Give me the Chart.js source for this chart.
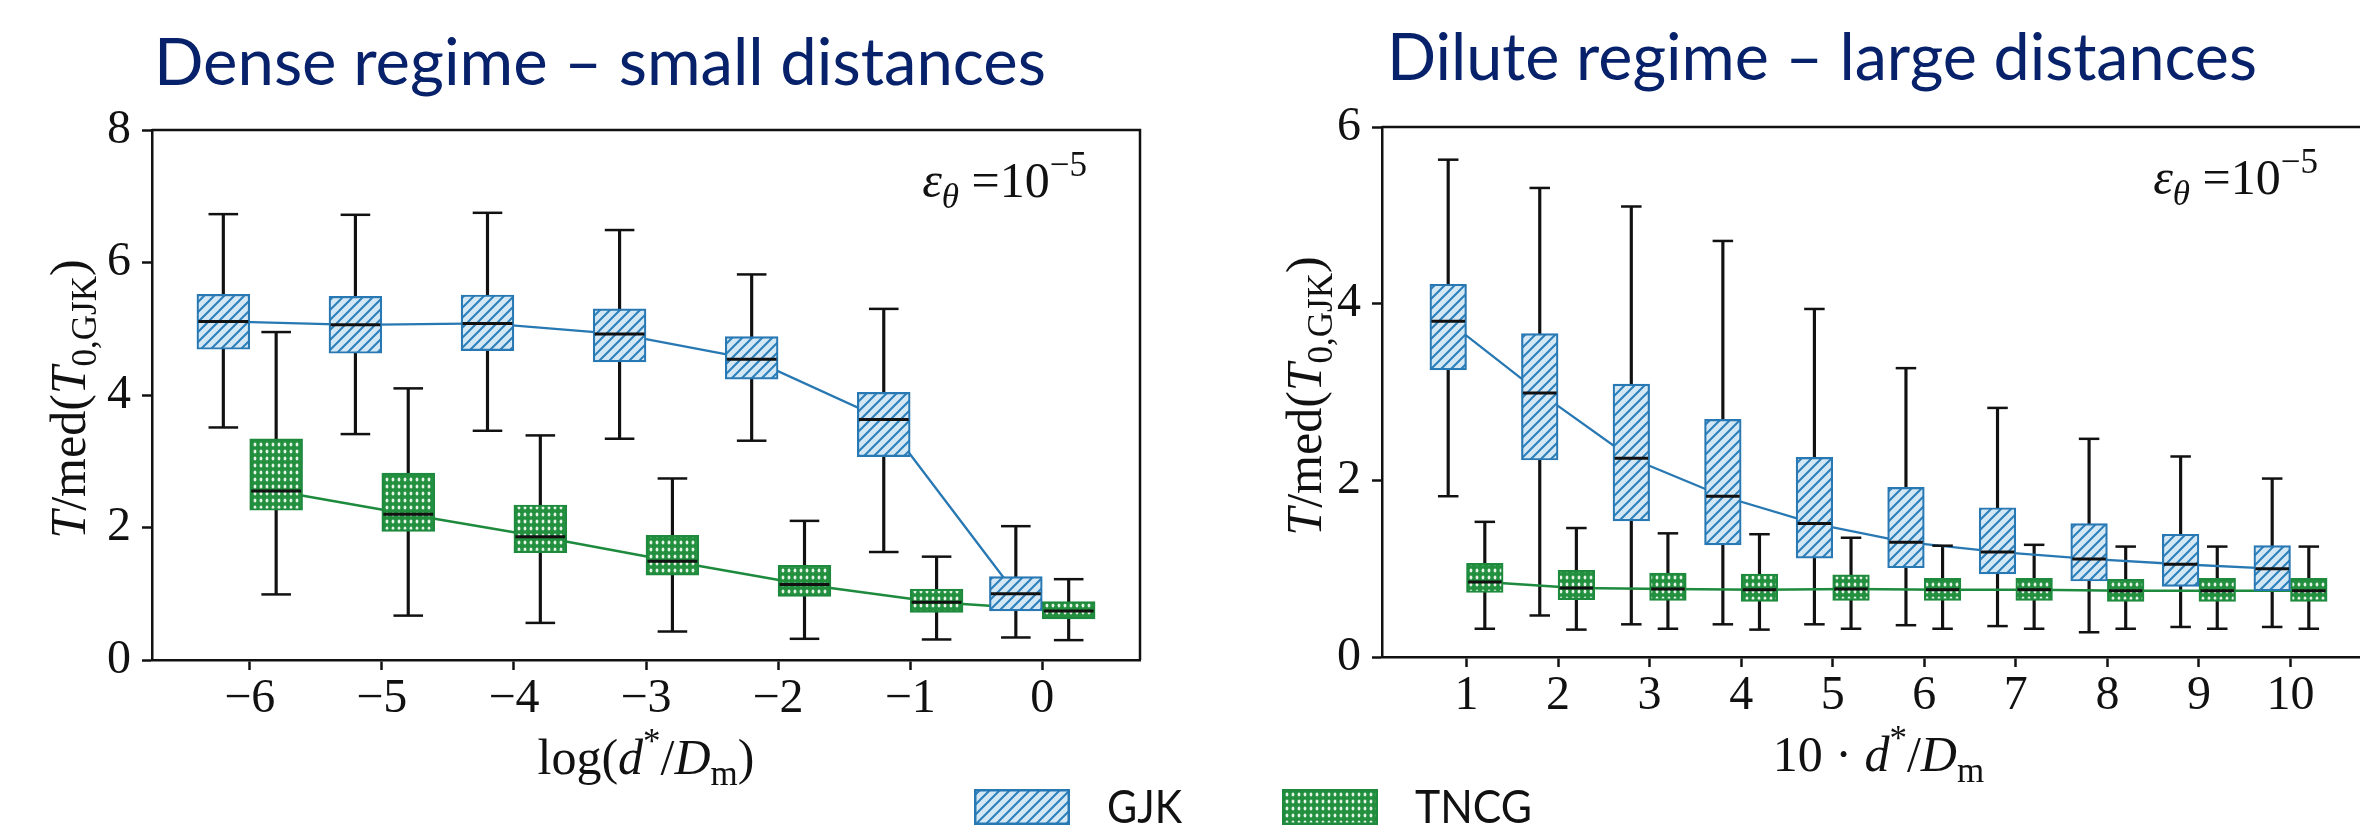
<!DOCTYPE html>
<html>
<head>
<meta charset="utf-8">
<script src="https://cdn.jsdelivr.net/npm/chart.js@4.4.1/dist/chart.umd.min.js"></script>
<style>
  html, body { margin: 0; padding: 0; background: #fff; overflow: hidden; width: 2360px; height: 827px; }
  canvas { position: absolute; top: 0; }
  #dense { left: 0; }
  #dilute { left: 1180px; }
</style>
</head>
<body>
<canvas id="dense" width="2360" height="827"></canvas>
<canvas id="dilute" width="1220" height="827"></canvas>
<script>
// left panel: dense regime, x = log(d*/Dm)
const denseX = [-6, -5, -4, -3, -2, -1, 0];
const denseGjkLow = [3.51, 3.41, 3.46, 3.34, 3.31, 1.63, 0.34];
const denseGjkQ1 = [4.69, 4.63, 4.67, 4.50, 4.24, 3.07, 0.74];
const denseGjkMed = [5.11, 5.06, 5.08, 4.92, 4.54, 3.63, 1.00];
const denseGjkQ3 = [5.52, 5.49, 5.51, 5.30, 4.88, 4.04, 1.26];
const denseGjkHigh = [6.73, 6.72, 6.75, 6.49, 5.82, 5.30, 2.02];
const denseTncgLow = [0.99, 0.67, 0.56, 0.43, 0.32, 0.31, 0.30];
const denseTncgQ1 = [2.26, 1.94, 1.62, 1.28, 0.96, 0.72, 0.62];
const denseTncgMed = [2.55, 2.20, 1.86, 1.49, 1.14, 0.87, 0.74];
const denseTncgQ3 = [3.34, 2.82, 2.34, 1.88, 1.43, 1.07, 0.88];
const denseTncgHigh = [4.95, 4.10, 3.39, 2.74, 2.10, 1.56, 1.22];
const denseYTicks = [0, 2, 4, 6, 8];

// right panel: dilute regime, x = 10 d*/Dm
const diluteX = [1, 2, 3, 4, 5, 6, 7, 8, 9, 10];
const diluteGjkLow = [1.82, 0.47, 0.37, 0.37, 0.37, 0.36, 0.35, 0.28, 0.34, 0.34];
const diluteGjkQ1 = [3.25, 2.23, 1.54, 1.27, 1.12, 1.01, 0.94, 0.86, 0.80, 0.75];
const diluteGjkMed = [3.80, 2.99, 2.25, 1.82, 1.51, 1.30, 1.19, 1.11, 1.05, 1.00];
const diluteGjkQ3 = [4.22, 3.66, 3.09, 2.69, 2.26, 1.92, 1.69, 1.51, 1.39, 1.26];
const diluteGjkHigh = [5.63, 5.31, 5.10, 4.71, 3.94, 3.27, 2.82, 2.47, 2.27, 2.02];
const diluteTncgLow = [0.32, 0.31, 0.32, 0.31, 0.32, 0.32, 0.32, 0.32, 0.32, 0.32];
const diluteTncgQ1 = [0.73, 0.65, 0.64, 0.63, 0.64, 0.64, 0.64, 0.63, 0.63, 0.63];
const diluteTncgMed = [0.85, 0.78, 0.77, 0.76, 0.77, 0.76, 0.76, 0.75, 0.75, 0.75];
const diluteTncgQ3 = [1.06, 0.98, 0.95, 0.94, 0.93, 0.89, 0.89, 0.88, 0.89, 0.89];
const diluteTncgHigh = [1.53, 1.46, 1.40, 1.39, 1.35, 1.26, 1.27, 1.25, 1.25, 1.25];
const diluteYTicks = [0, 2, 4, 6];

const seriesNames = ["GJK", "TNCG"];

const SERIF = '"Liberation Serif", "DejaVu Serif", serif';
const SANS = 'Lato, "Open Sans", sans-serif';
const INK = "#111";
const BLUE = "#2878b3";
const GREEN = "#1d8a3d";
const NAVY = "#07226a";

// math-ish labels: t = text, i = italic, s = sub/sup
const yLabelParts = [
  { t: "T", i: true }, { t: "/med(" }, { t: "T", i: true }, { t: "0,GJK", s: "sub" }, { t: ")" }
];
const noteParts = [
  { t: "\u03b5", i: true }, { t: "\u03b8", i: true, s: "sub" }, { t: " =10" }, { t: "\u22125", s: "sup" }
];
const denseXLabel = [
  { t: "log(" }, { t: "d", i: true }, { t: "*", s: "sup" }, { t: "/" }, { t: "D", i: true }, { t: "m", s: "sub" }, { t: ")" }
];
const diluteXLabel = [
  { t: "10 \u00b7 " }, { t: "d", i: true }, { t: "*", s: "sup" }, { t: "/" }, { t: "D", i: true }, { t: "m", s: "sub" }
];

function hatchPattern(ctx) {
  const c = document.createElement("canvas");
  c.width = 10; c.height = 10;
  const g = c.getContext("2d");
  g.fillStyle = "#d3e7f4";
  g.fillRect(0, 0, 10, 10);
  g.strokeStyle = "#2b7fba";
  g.lineWidth = 2;
  g.beginPath();
  g.moveTo(-1, 11); g.lineTo(11, -1);
  g.moveTo(-6, 6); g.lineTo(6, -6);
  g.moveTo(4, 16); g.lineTo(16, 4);
  g.stroke();
  return ctx.createPattern(c, "repeat");
}

function dotPattern(ctx) {
  const c = document.createElement("canvas");
  c.width = 6; c.height = 7;
  const g = c.getContext("2d");
  g.fillStyle = "#23903f";
  g.fillRect(0, 0, 6, 7);
  g.fillStyle = "#e6f4e8";
  g.beginPath();
  g.ellipse(3, 3.5, 1.4, 1.9, 0, 0, Math.PI * 2);
  g.fill();
  return ctx.createPattern(c, "repeat");
}

function mathFont(p, size) {
  const s = p.s ? size * 0.7 : size;
  return (p.i ? "italic " : "") + s + "px " + SERIF;
}

function drawMath(ctx, parts, x, y, size, align) {
  let total = 0;
  parts.forEach(p => { ctx.font = mathFont(p, size); total += ctx.measureText(p.t).width; });
  let cx = align === "right" ? x - total : align === "center" ? x - total / 2 : x;
  ctx.textAlign = "left";
  ctx.textBaseline = "alphabetic";
  ctx.fillStyle = INK;
  parts.forEach(p => {
    ctx.font = mathFont(p, size);
    const dy = p.s === "sub" ? size * 0.22 : p.s === "sup" ? -size * 0.42 : 0;
    ctx.fillText(p.t, cx, y + dy);
    cx += ctx.measureText(p.t).width;
  });
}

function squeezedText(ctx, text, x, y, size, width, color) {
  ctx.font = size + "px " + SANS;
  const w = ctx.measureText(text).width;
  ctx.save();
  ctx.translate(x, y);
  ctx.scale(width / w, 1);
  ctx.fillStyle = color;
  ctx.textAlign = "left";
  ctx.textBaseline = "alphabetic";
  ctx.fillText(text, 0, 0);
  ctx.restore();
}

const decor = {
  id: "decor",
  afterDraw(chart, args, o) {
    const { ctx, chartArea: a } = chart;
    ctx.save();
    // top and right spines
    ctx.strokeStyle = INK;
    ctx.lineWidth = 2.5;
    ctx.beginPath();
    ctx.moveTo(a.left, a.top);
    ctx.lineTo(a.right, a.top);
    ctx.lineTo(a.right, a.bottom);
    ctx.stroke();

    squeezedText(ctx, o.title, o.titleX, o.titleY, 65, o.titleW, NAVY);

    // y axis title, rotated
    ctx.save();
    ctx.translate(a.left - o.yLabelGap, (a.top + a.bottom) / 2 + 4);
    ctx.rotate(-Math.PI / 2);
    drawMath(ctx, yLabelParts, 0, 15, 50, "center");
    ctx.restore();

    drawMath(ctx, o.xLabel, (a.left + a.right) / 2, a.bottom + 114, 50, "center");
    drawMath(ctx, o.noteParts || noteParts, a.right - o.noteRight, a.top + 67, 50, "right");

    if (o.legend) {
      const boxes = chart.data.datasets.filter(d => seriesNames.includes(d.label));
      boxes.forEach((d, k) => {
        const x = o.legend[k];
        ctx.fillStyle = d.backgroundColor;
        ctx.fillRect(x, 789, 96, 36);
        ctx.strokeStyle = d.borderColor;
        ctx.lineWidth = 2.5;
        ctx.strokeRect(x + 1.25, 790.25, 93.5, 33.5);
        squeezedText(ctx, d.label, x + 133, 823, 46, d.label.length === 3 ? 75 : 117, INK);
      });
    }
    ctx.restore();
  }
};

function makeChart(id, p) {
  const ctx = document.getElementById(id).getContext("2d");
  const hatch = hatchPattern(ctx);
  const dots = dotPattern(ctx);
  const sh = 0.2;
  const gx = p.x.map(v => v - sh);
  const tx = p.x.map(v => v + sh);
  const pts = (xs, ys) => xs.map((v, i) => ({ x: v, y: ys[i] }));
  const rng = (xs, a, b) => xs.map((v, i) => ({ x: v, y: [a[i], b[i]] }));
  const halfPx = u => c => {
    const s = c.chart.scales.x;
    return Math.abs(s.getPixelForValue(p.x[0] + u) - s.getPixelForValue(p.x[0]));
  };
  const boxCommon = { type: "bar", borderWidth: 2.2, borderSkipped: false, grouped: false,
    categoryPercentage: 1, barPercentage: 1, order: 3 };

  const datasets = [
    Object.assign({ label: seriesNames[0], data: rng(gx, p.g.q1, p.g.q3),
      backgroundColor: hatch, borderColor: BLUE }, boxCommon),
    Object.assign({ label: seriesNames[1], data: rng(tx, p.t.q1, p.t.q3),
      backgroundColor: dots, borderColor: GREEN }, boxCommon),
    { type: "bar", label: "whiskers",
      data: rng(gx, p.g.low, p.g.high).concat(rng(tx, p.t.low, p.t.high)),
      backgroundColor: INK, barThickness: 2.5, grouped: false, order: 6 },
    { type: "line", label: "caps", showLine: false,
      data: pts(gx, p.g.low).concat(pts(gx, p.g.high), pts(tx, p.t.low), pts(tx, p.t.high)),
      pointStyle: "line", pointRadius: halfPx(0.112), pointBorderWidth: 2.5,
      pointBorderColor: INK, order: 2 },
    { type: "line", label: "medians", showLine: false,
      data: pts(gx, p.g.med).concat(pts(tx, p.t.med)),
      pointStyle: "line", pointRadius: c => halfPx(sh)(c) - 1.5, pointBorderWidth: 3,
      pointBorderColor: INK, order: 1 },
    { type: "line", label: "GJK median", data: pts(gx, p.g.med), borderColor: BLUE,
      borderWidth: 2.3, pointRadius: 0, tension: 0, order: 4 },
    { type: "line", label: "TNCG median", data: pts(tx, p.t.med), borderColor: GREEN,
      borderWidth: 2.5, pointRadius: 0, tension: 0, order: 4 }
  ];

  const tickFont = { family: SERIF, size: 48 };
  return new Chart(ctx, {
    type: "bar",
    data: { datasets: datasets },
    options: {
      responsive: false,
      animation: false,
      events: [],
      layout: { padding: p.padding },
      scales: {
        x: {
          type: "linear", min: p.xMin, max: p.xMax, offset: false,
          afterBuildTicks: s => { s.ticks = p.x.map(v => ({ value: v })); },
          afterFit: s => { s.height = 100; },
          grid: { offset: false, drawOnChartArea: false, drawTicks: true, tickLength: 10,
            tickWidth: 2.5, tickColor: INK },
          border: { display: true, color: INK, width: 2.5 },
          ticks: { font: tickFont, color: INK, padding: 1, maxRotation: 0, autoSkip: false,
            callback: v => (v < 0 ? "\u2212" : "") + Math.abs(v) }
        },
        y: {
          type: "linear", min: 0, max: p.yTicks[p.yTicks.length - 1],
          afterBuildTicks: s => { s.ticks = p.yTicks.map(v => ({ value: v })); },
          afterFit: s => { s.width = 100; },
          grid: { drawOnChartArea: false, drawTicks: true, tickLength: 10,
            tickWidth: 2.5, tickColor: INK },
          border: { display: true, color: INK, width: 2.5 },
          ticks: { font: tickFont, color: INK, padding: 11 }
        }
      },
      plugins: {
        legend: { display: false },
        tooltip: { enabled: false },
        decor: p.decor
      }
    },
    plugins: [decor]
  });
}

makeChart("dense", {
  x: denseX, xMin: -6.74, xMax: 0.74, yTicks: denseYTicks,
  g: { low: denseGjkLow, q1: denseGjkQ1, med: denseGjkMed, q3: denseGjkQ3, high: denseGjkHigh },
  t: { low: denseTncgLow, q1: denseTncgQ1, med: denseTncgMed, q3: denseTncgQ3, high: denseTncgHigh },
  padding: { left: 52, top: 130, right: 1220, bottom: 67 },
  decor: { title: "Dense regime \u2013 small distances", titleX: 154, titleY: 85, titleW: 892,
    xLabel: denseXLabel, yLabelGap: 82, noteRight: 53, legend: [974, 1282] }
});

makeChart("dilute", {
  x: diluteX, xMin: 0.077, xMax: 10.923, yTicks: diluteYTicks,
  g: { low: diluteGjkLow, q1: diluteGjkQ1, med: diluteGjkMed, q3: diluteGjkQ3, high: diluteGjkHigh },
  t: { low: diluteTncgLow, q1: diluteTncgQ1, med: diluteTncgMed, q3: diluteTncgQ3, high: diluteTncgHigh },
  padding: { left: 102, top: 127, right: 25, bottom: 70 },
  decor: { title: "Dilute regime \u2013 large distances", titleX: 207, titleY: 80, titleW: 870,
    xLabel: diluteXLabel, yLabelGap: 76, noteRight: 57, legend: null }
});
</script>
</body>
</html>
